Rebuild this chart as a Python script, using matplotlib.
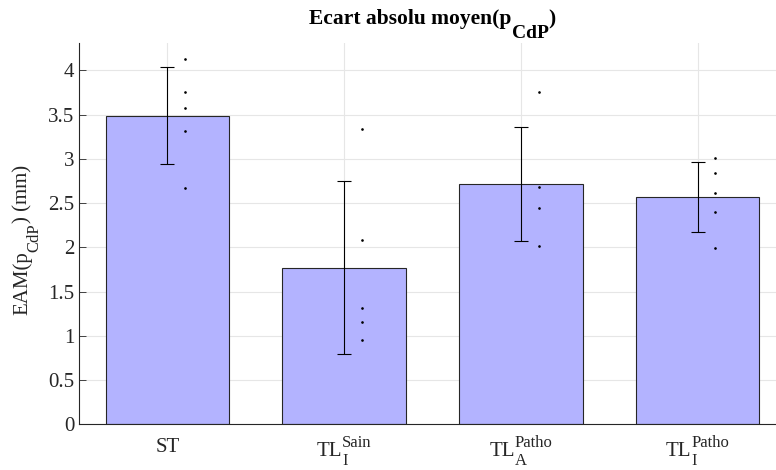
import numpy as np
import matplotlib
matplotlib.use('Agg')
import matplotlib.pyplot as plt
from matplotlib.transforms import ScaledTranslation, blended_transform_factory

# Data
cat_base = ['ST', 'TL', 'TL', 'TL']
cat_sub = ['', 'I', 'A', 'I']
cat_sup = ['', 'Sain', 'Patho', 'Patho']
means = [3.49, 1.768, 2.718, 2.571]
errors = [0.545, 0.977, 0.642, 0.396]
points_st = [4.13, 3.755, 3.58, 3.318, 2.673]
points_tl_sain = [3.34, 2.08, 1.312, 1.154, 0.954]
points_tla_patho = [3.755, 2.684, 2.447, 2.01]
points_tli_patho = [3.005, 2.846, 2.62, 2.40, 1.99]
yticks = [0, 0.5, 1, 1.5, 2, 2.5, 3, 3.5, 4]
ytick_labels = ['0', '0.5', '1', '1.5', '2', '2.5', '3', '3.5', '4']

plt.rcParams['font.family'] = 'Liberation Serif'

txt = '#262626'
fig = plt.figure(figsize=(7.76, 4.70), dpi=100)
ax = fig.add_axes([0.1018, 0.0972, 0.911, 0.8113])


def compose(groups, x, y, transform, rotation=0, color=txt):
    # groups: list of [(text, size, baseline shift in pt, weight), ...]
    # pieces of one group start at the same place (sub + sup stacked)
    renderer = fig.canvas.get_renderer()
    widths = []
    for grp in groups:
        w = 0
        for s, size, shift, weight in grp:
            t = fig.text(0, 0, s, fontsize=size, fontweight=weight)
            w = max(w, t.get_window_extent(renderer).width * 72 / fig.dpi)
            t.remove()
        widths.append(w)
    pos = -sum(widths) / 2
    for grp, w in zip(groups, widths):
        for s, size, shift, weight in grp:
            if rotation == 90:
                dx, dy = -shift, pos
            else:
                dx, dy = pos, shift
            off = ScaledTranslation(dx / 72, dy / 72, fig.dpi_scale_trans)
            ax.text(x, y, s, transform=transform + off, fontsize=size, fontweight=weight,
                    rotation=rotation, rotation_mode='anchor', ha='left', va='baseline',
                    color=color, clip_on=False)
        pos += w


x = np.arange(1, len(cat_base) + 1)
ax.bar(x, means, width=0.7, color='#b3b3ff', edgecolor='#262626', linewidth=0.8, zorder=2)
ax.errorbar(x, means, yerr=errors, fmt='none', ecolor='black', elinewidth=0.8,
            capsize=5, capthick=0.8, zorder=3)

# individual points, slightly offset to the right
for xi, pts in zip(x, [points_st, points_tl_sain, points_tla_patho, points_tli_patho]):
    ax.plot([xi + 0.1] * len(pts), pts, 'k.', markersize=1.8, zorder=4)

ax.set_xlim(0.5, 4.5)
ax.set_ylim(0, 4.31)
ax.set_xticks(x)
ax.set_xticklabels([])
ax.set_yticks(yticks)
ax.set_yticklabels(ytick_labels)
ax.tick_params(axis='both', direction='in', labelsize=15, colors=txt, length=5, width=0.6)
ax.tick_params(axis='x', length=0)

ax.grid(True, color='#e6e6e6', linewidth=0.8, zorder=0)
ax.set_axisbelow(True)
for side in ['top', 'right']:
    ax.spines[side].set_visible(False)
for side in ['left', 'bottom']:
    ax.spines[side].set_color(txt)
    ax.spines[side].set_linewidth(0.8)

# x tick labels with TeX-like sub/superscripts
xtrans = blended_transform_factory(ax.transData, ax.transAxes)
for xi, b, sb, sp in zip(x, cat_base, cat_sub, cat_sup):
    if sp:
        groups = [[(b, 15, -23, 'normal')],
                  [(sp, 12, -16.3, 'normal'), (sb, 12, -29.3, 'normal')]]
    else:
        groups = [[(b, 15, -19.7, 'normal')]]
    compose(groups, xi, 0, xtrans)

# y label
compose([[('EAM(p', 15, 37, 'normal')], [('CdP', 12, 29.3, 'normal')], [(') (mm)', 15, 37, 'normal')]],
        0, 0.483, ax.transAxes, rotation=90)

# title
compose([[('Ecart absolu moyen(p', 15.5, 13.5, 'bold')], [('CdP', 14, 3.5, 'bold')], [(')', 15.5, 13.5, 'bold')]],
        0.5, 1, ax.transAxes, color='black')

fig.savefig('out.png', dpi=100)
